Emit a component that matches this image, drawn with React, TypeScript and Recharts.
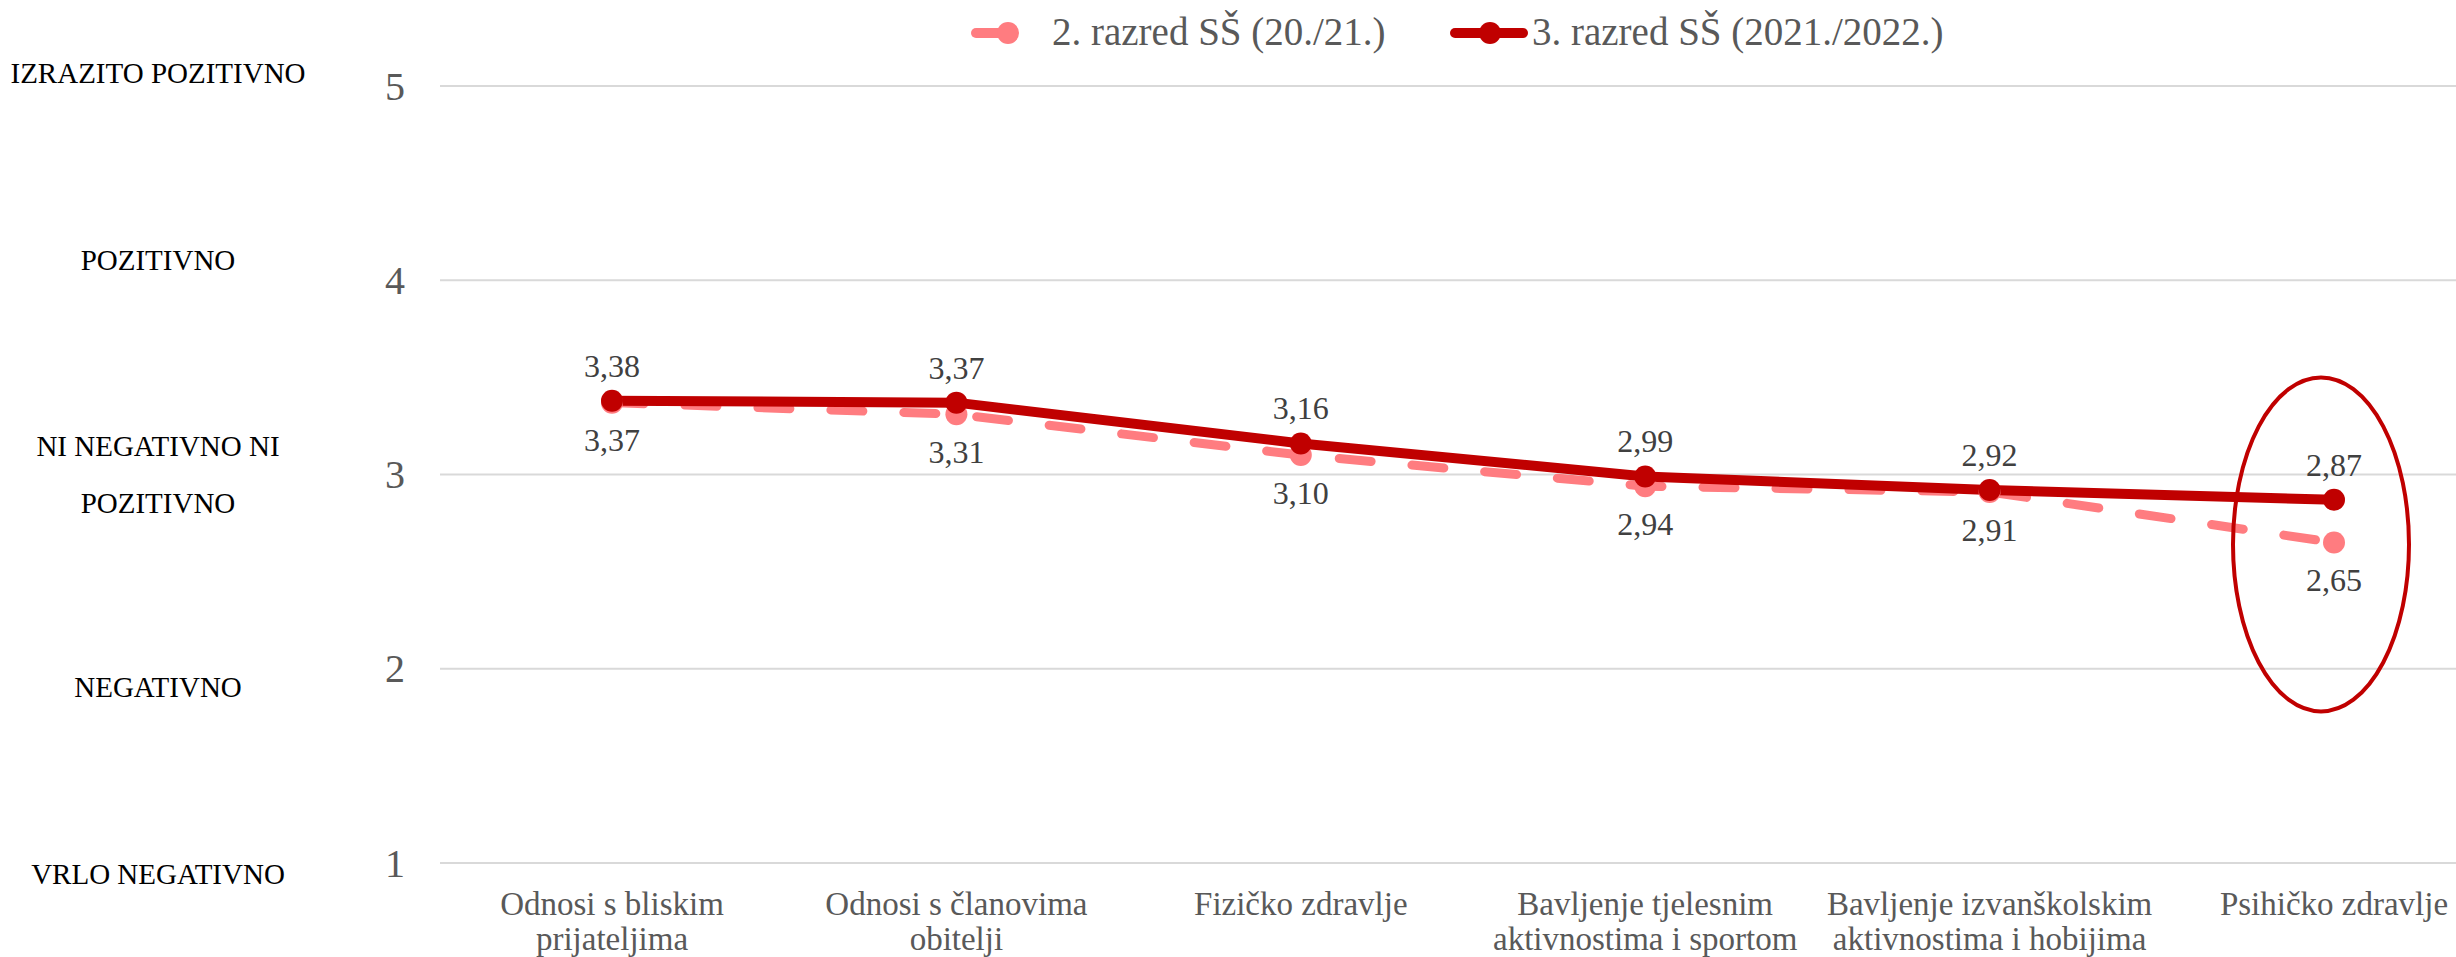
import React from 'react';
import { LineChart, Line, XAxis, YAxis, CartesianGrid, Legend, ReferenceDot } from 'recharts';

const categories = [
  'Odnosi s bliskim\nprijateljima',
  'Odnosi s članovima\nobitelji',
  'Fizičko zdravlje',
  'Bavljenje tjelesnim\naktivnostima i sportom',
  'Bavljenje izvanškolskim\naktivnostima i hobijima',
  'Psihičko zdravlje',
];
const grade2 = [3.37, 3.31, 3.1, 2.94, 2.91, 2.65];
const grade3 = [3.38, 3.37, 3.16, 2.99, 2.92, 2.87];
const grade2Name = '2. razred SŠ (20./21.)';
const grade3Name = '3. razred SŠ (2021./2022.)';
const scaleTicks = [1, 2, 3, 4, 5];
const scaleLabels = ['VRLO NEGATIVNO', 'NEGATIVNO', 'NI NEGATIVNO NI\nPOZITIVNO', 'POZITIVNO', 'IZRAZITO POZITIVNO'];
const highlightValue = 2.64;

const data = categories.map((c, i) => ({ name: c, g2: grade2[i], g3: grade3[i] }));

const FONT = '"Liberation Serif", "Times New Roman", serif';
const PINK = '#FF7C80';
const DARK = '#C00000';
// small vertical nudges of the scale captions, as placed in the original
const captionDy: Record<number, number> = { 5: -13, 4: -20, 3: 0, 2: 19, 1: 11 };

const fmt = (v: any) => Number(v).toFixed(2).replace('.', ',');

function YTick(props: any) {
  const { x, y, payload } = props;
  const v = payload.value as number;
  const lines = scaleLabels[scaleTicks.indexOf(v)].split('\n');
  const cy = y + (captionDy[v] || 0);
  const start = cy - ((lines.length - 1) * 57) / 2;
  return (
    <g>
      <text x={x} y={y} dy="0.34em" textAnchor="end" fill="#595959" fontSize={40} fontFamily={FONT}>
        {v}
      </text>
      {lines.map((l, i) => (
        <text key={i} x={158} y={start + i * 57} dy="0.33em" textAnchor="middle" fill="#000" fontSize={29} fontFamily={FONT}>
          {l}
        </text>
      ))}
    </g>
  );
}

function XTick(props: any) {
  const { x, y, payload } = props;
  const lines = String(payload.value).split('\n');
  return (
    <g>
      {lines.map((l, i) => (
        <text key={i} x={x} y={y + 52 + i * 35} textAnchor="middle" fill="#595959" fontSize={33} fontFamily={FONT}>
          {l}
        </text>
      ))}
    </g>
  );
}

function LegendContent() {
  return (
    <svg width={1100} height={60} style={{ overflow: 'visible' }}>
      <line x1={16} y1={33} x2={48} y2={33} stroke={PINK} strokeWidth={10} strokeLinecap="round" />
      <circle cx={48} cy={33} r={11} fill={PINK} />
      <text x={92} y={45} fill="#595959" fontSize={39} fontFamily={FONT}>{grade2Name}</text>
      <line x1={495} y1={33} x2={563} y2={33} stroke={DARK} strokeWidth={10} strokeLinecap="round" />
      <circle cx={530} cy={33} r={11} fill={DARK} />
      <text x={572} y={45} fill="#595959" fontSize={39} fontFamily={FONT}>{grade3Name}</text>
    </svg>
  );
}

function Highlight(props: any) {
  const { cx, cy } = props;
  return <ellipse cx={cx - 13} cy={cy} rx={88} ry={167} fill="none" stroke={DARK} strokeWidth={4} />;
}

export default function App() {
  return (
    <div style={{ position: 'absolute', left: 0, top: 0, width: 2456, height: 957, overflow: 'hidden', background: '#fff' }}>
      <LineChart width={2506} height={957} data={data} margin={{ top: 86, right: 0, bottom: 0, left: 0 }} style={{ fontFamily: FONT }}>
        <CartesianGrid horizontal vertical={false} stroke="#D9D9D9" strokeWidth={2} />
        <XAxis
          dataKey="name"
          height={94}
          axisLine={false}
          tickLine={false}
          tickSize={0}
          tickMargin={0}
          interval={0}
          padding={{ left: 172, right: 172 }}
          tick={<XTick />}
        />
        <YAxis
          domain={[1, 5]}
          ticks={scaleTicks}
          width={440}
          axisLine={false}
          tickLine={false}
          tickMargin={29}
          tick={<YTick />}
        />
        <Legend
          layout="horizontal"
          verticalAlign="middle"
          align="center"
          wrapperStyle={{ top: 0, left: 960, width: 1100, height: 60 }}
          content={<LegendContent />}
        />
        <Line
          name={grade2Name}
          dataKey="g2"
          stroke={PINK}
          strokeWidth={9}
          strokeDasharray="32 41"
          strokeLinecap="round"
          dot={{ r: 11, fill: PINK, stroke: 'none' }}
          activeDot={false}
          isAnimationActive={false}
          label={{ position: 'bottom', offset: 26, fill: '#404040', fontSize: 32, fontFamily: FONT, formatter: fmt }}
        />
        <Line
          name={grade3Name}
          dataKey="g3"
          stroke={DARK}
          strokeWidth={10}
          strokeLinecap="round"
          dot={{ r: 11, fill: DARK, stroke: 'none' }}
          activeDot={false}
          isAnimationActive={false}
          label={{ position: 'top', offset: 24, fill: '#404040', fontSize: 32, fontFamily: FONT, formatter: fmt }}
        />
        <ReferenceDot x={categories[5]} y={highlightValue} shape={<Highlight />} />
      </LineChart>
    </div>
  );
}
